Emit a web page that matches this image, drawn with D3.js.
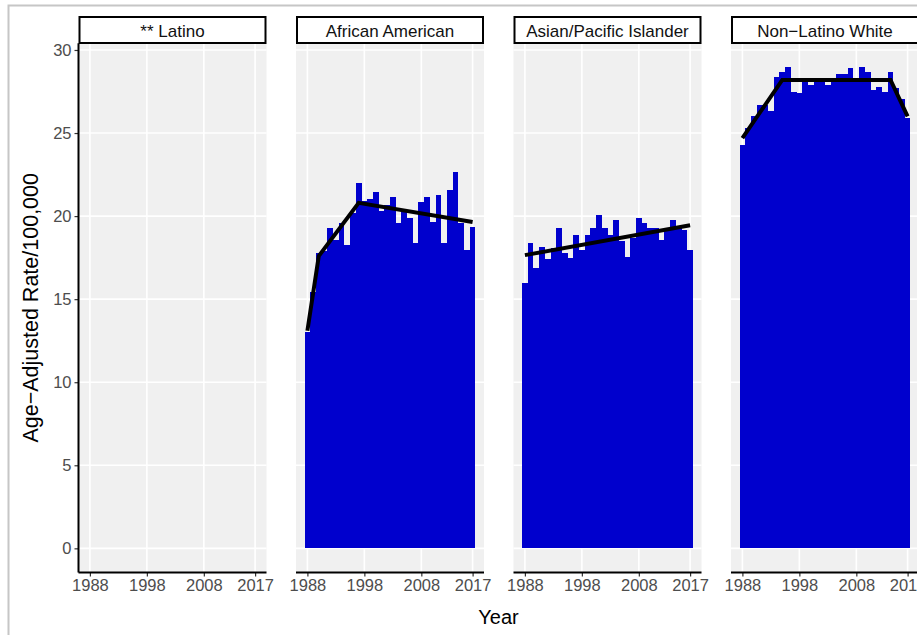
<!DOCTYPE html>
<html><head><meta charset="utf-8">
<script src="https://cdn.jsdelivr.net/npm/d3@7"></script>
<style>body{margin:0;background:#fff} svg{display:block}</style>
</head><body><svg id="c" width="917" height="635"></svg>
<script>
const years = [1988,1989,1990,1991,1992,1993,1994,1995,1996,1997,1998,1999,2000,2001,2002,2003,2004,2005,2006,2007,2008,2009,2010,2011,2012,2013,2014,2015,2016,2017];
const groups = ["** Latino", "African American", "Asian/Pacific Islander", "Non\u2212Latino White"];
const latinoRates = [];
const africanAmericanRates = [13.0,15.45,17.8,17.9,19.27,18.56,19.57,18.26,20.2,21.97,20.9,21.0,21.47,20.3,20.65,21.17,19.57,20.27,19.87,18.4,20.87,21.17,19.66,21.27,18.4,21.57,22.67,19.57,17.96,19.36];
const asianPIRates = [15.95,18.36,16.86,18.16,17.4,18.06,19.27,17.76,17.46,18.86,17.96,18.86,19.27,20.07,19.27,18.86,19.77,18.5,17.56,18.66,19.87,19.57,19.27,19.27,18.56,19.27,19.77,19.36,19.16,17.96];
const whiteRates = [24.28,25.3,26.0,26.69,26.69,26.3,28.39,28.7,28.96,27.45,27.39,28.1,27.87,28.15,28.2,27.87,28.33,28.53,28.55,28.93,28.2,28.95,28.68,27.6,27.77,27.47,28.65,27.7,27.05,25.89];
const latinoTrendYears = [], latinoTrendRates = [];
const africanAmericanTrendYears = [1988,1990,1997,2017], africanAmericanTrendRates = [13.1,17.6,20.8,19.65];
const asianPITrendYears = [1988,2017], asianPITrendRates = [17.65,19.45];
const whiteTrendYears = [1988,1995,2014,2017], whiteTrendRates = [24.7,28.2,28.2,26.0];
const xTickValues = [1988,1998,2008,2017];
const yTickValues = [0,5,10,15,20,25,30];

const rateSets = [latinoRates, africanAmericanRates, asianPIRates, whiteRates];
const trendSets = [
  [latinoTrendYears, latinoTrendRates],
  [africanAmericanTrendYears, africanAmericanTrendRates],
  [asianPITrendYears, asianPITrendRates],
  [whiteTrendYears, whiteTrendRates]
];

const svg = d3.select("#c");
const font = "'Liberation Sans', Arial, sans-serif";

// outer frame
svg.append("rect").attr("x",8.5).attr("y",5.5).attr("width",1200).attr("height",1200)
  .attr("fill","none").attr("stroke","#c6c6c6").attr("stroke-width",2);

const panelW = 188, panelStep = 217.5, firstLeft = 78.5;
const panelTop = 43.2, panelBottom = 572.4;

const allVals = rateSets.flat().concat(trendSets.map(t=>t[1]).flat());
const maxV = d3.max(allVals);
const y = d3.scaleLinear().domain([-0.05*maxV, maxV*1.05]).range([panelBottom, panelTop]);

groups.forEach((g, i) => {
  const left = firstLeft + i*panelStep;
  const x = d3.scaleLinear().domain([years[0]-2, years[years.length-1]+2]).range([left, left+panelW]);
  const p = svg.append("g");
  p.append("rect").attr("x",left).attr("y",panelTop).attr("width",panelW).attr("height",panelBottom-panelTop).attr("fill","#f0f0f0");
  // grid
  p.selectAll(".hg").data(yTickValues).enter().append("line")
    .attr("x1",left).attr("x2",left+panelW).attr("y1",d=>y(d)).attr("y2",d=>y(d))
    .attr("stroke","#fff").attr("stroke-width",1.6);
  p.selectAll(".vg").data(xTickValues).enter().append("line")
    .attr("x1",d=>x(d)).attr("x2",d=>x(d)).attr("y1",panelTop).attr("y2",panelBottom)
    .attr("stroke","#fff").attr("stroke-width",1.6);
  // bars
  const rates = rateSets[i];
  p.selectAll(".bar").data(rates.map((v,k)=>({year:years[k], v}))).enter().append("rect")
    .attr("x",d=>x(d.year-0.5)).attr("width",d=>x(d.year+0.5)-x(d.year-0.5))
    .attr("y",d=>y(d.v)).attr("height",d=>y(0)-y(d.v)).attr("fill","#0000cd")
    .attr("shape-rendering","crispEdges");
  // trend
  const [ty, tr] = trendSets[i];
  if (ty.length) {
    p.append("path").datum(ty.map((yr,k)=>[yr,tr[k]]))
      .attr("d", d3.line().x(d=>x(d[0])).y(d=>y(d[1])))
      .attr("fill","none").attr("stroke","#000").attr("stroke-width",4).attr("stroke-linejoin","miter");
  }
  // x axis
  const xa = p.append("g").attr("transform",`translate(0,${panelBottom})`)
    .call(d3.axisBottom(x).tickValues(xTickValues).tickFormat(d3.format("d")).tickSize(4).tickPadding(3));
  xa.select(".domain").remove();
  xa.selectAll(".tick line").attr("stroke","#333").attr("stroke-width",1.2);
  xa.selectAll(".tick text").attr("fill","#4d4d4d").style("font-family",font).style("font-size","16.5px");
  p.append("line").attr("x1",left).attr("x2",left+panelW).attr("y1",panelBottom).attr("y2",panelBottom)
    .attr("stroke","#000").attr("stroke-width",2);
  if (i === 0) {
    const ya = p.append("g").attr("transform",`translate(${left},0)`)
      .call(d3.axisLeft(y).tickValues(yTickValues).tickSize(4).tickPadding(3));
    ya.select(".domain").remove();
    ya.selectAll(".tick line").attr("stroke","#333").attr("stroke-width",1.2);
    ya.selectAll(".tick text").attr("fill","#4d4d4d").style("font-family",font).style("font-size","16.5px");
    p.append("line").attr("x1",left).attr("x2",left).attr("y1",panelTop).attr("y2",panelBottom)
      .attr("stroke","#000").attr("stroke-width",2);
  }
  // strip
  p.append("rect").attr("x",left+1).attr("y",17).attr("width",panelW-2).attr("height",26)
    .attr("fill","#fff").attr("stroke","#000").attr("stroke-width",2);
  p.append("text").attr("x",left+panelW/2).attr("y",36.5).attr("text-anchor","middle")
    .style("font-family",font).style("font-size","17px").attr("fill","#111").text(g);
});

svg.append("text").attr("x",498.5).attr("y",624).attr("text-anchor","middle")
  .style("font-family",font).style("font-size","20px").attr("fill","#000").text("Year");
svg.append("text").attr("transform",`translate(37.5,${(panelTop+panelBottom)/2}) rotate(-90)`)
  .attr("text-anchor","middle").style("font-family",font).style("font-size","21.5px").attr("fill","#000")
  .text("Age\u2212Adjusted Rate/100,000");
</script></body></html>
